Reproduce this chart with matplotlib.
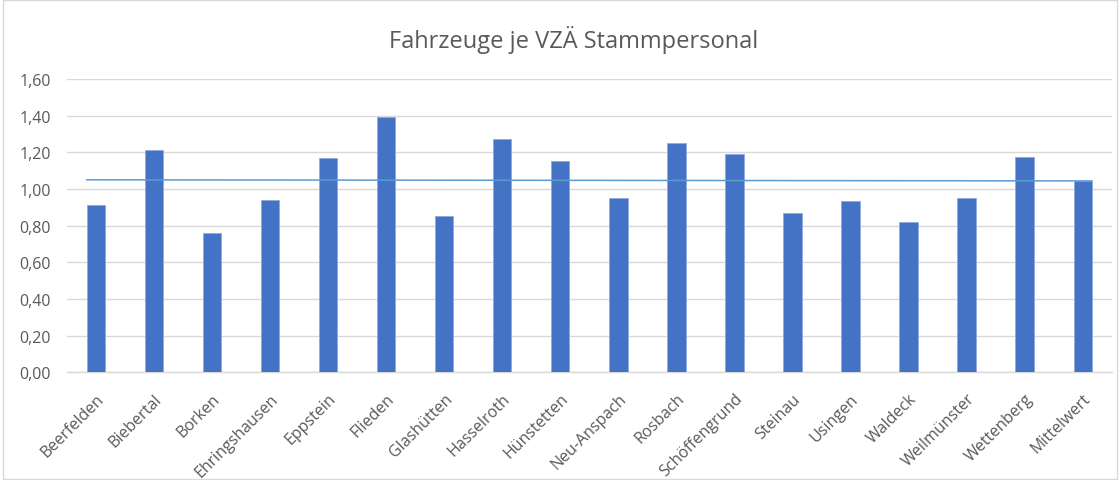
import matplotlib
matplotlib.use("Agg")
import matplotlib.pyplot as plt
from matplotlib.patches import Rectangle
from matplotlib.ticker import FuncFormatter

categories = ["Beerfelden", "Biebertal", "Borken", "Ehringshausen", "Eppstein",
              "Flieden", "Glashütten", "Hasselroth", "Hünstetten", "Neu-Anspach",
              "Rosbach", "Schöffengrund", "Steinau", "Usingen", "Waldeck",
              "Weilmünster", "Wettenberg", "Mittelwert"]
values = [0.91, 1.21, 0.76, 0.94, 1.17, 1.39, 0.85, 1.27, 1.15, 0.95,
          1.25, 1.19, 0.87, 0.935, 0.82, 0.95, 1.175, 1.045]
mean_line = [1.05, 1.044]
title = "Fahrzeuge je VZÄ Stammpersonal"
yticks = [0.0, 0.2, 0.4, 0.6, 0.8, 1.0, 1.2, 1.4, 1.6]

plt.rcParams['font.family'] = ['Open Sans', 'DejaVu Sans']
txt = "#595959"

fig = plt.figure(figsize=(11.2, 4.81), dpi=100)
ax = fig.add_axes([0.0598, 0.2239, 0.9328, 0.6098])

bw = 0.316
x = list(range(len(categories)))
ax.bar(x, values, width=bw, color="#4472C4", edgecolor="#8FAADC", linewidth=0.6, zorder=3)
ax.plot([x[0] - bw / 2, x[-1] + bw / 2], mean_line, color="#5B9BD5", linewidth=1.1, zorder=4)

ax.set_xlim(-0.5, len(categories) - 0.5)
ax.set_ylim(0, 1.6)
ax.set_yticks(yticks)
ax.yaxis.set_major_formatter(FuncFormatter(lambda v, p: f"{v:.2f}".replace(".", ",")))
ax.grid(axis="y", color="#D9D9D9", linewidth=1.0, zorder=0)
ax.set_axisbelow(True)
for s in ["top", "right", "left"]:
    ax.spines[s].set_visible(False)
ax.spines["bottom"].set_color("#D9D9D9")
ax.spines["bottom"].set_linewidth(1.0)
ax.tick_params(axis="both", length=0, colors=txt, labelsize=11.5)
ax.tick_params(axis="y", pad=11.5)
ax.set_xticks(x)
ax.set_xticklabels(categories, rotation=45, ha="right", rotation_mode="anchor")
ax.tick_params(axis="x", pad=13)

fig.text(0.512, 0.917, title, ha="center", va="center", fontsize=17, color=txt)

fig.patches.append(Rectangle((0.003, 0.003), 0.994, 0.994, transform=fig.transFigure,
                             fill=False, edgecolor="#D9D9D9", linewidth=1.0))

fig.savefig("out.png", dpi=100)
